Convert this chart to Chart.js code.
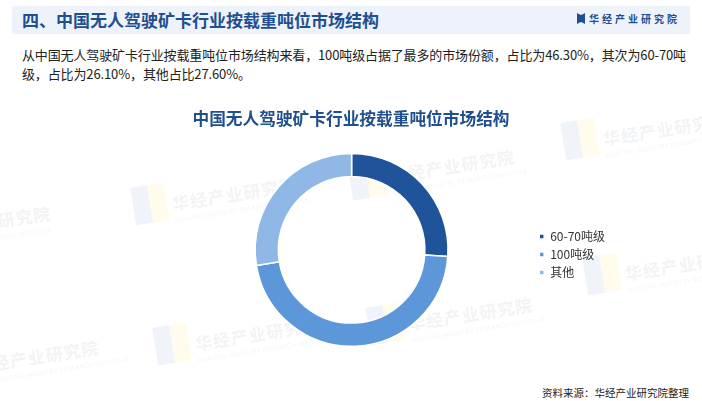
<!DOCTYPE html>
<html><head><meta charset="utf-8">
<script src="https://cdn.jsdelivr.net/npm/chart.js@4"></script>
<style>
html,body{margin:0;padding:0;background:#fff;width:702px;height:401px;overflow:hidden;font-family:"Noto Sans CJK SC","Noto Sans",sans-serif;}
#band{position:absolute;left:12px;top:6px;width:678px;height:28px;background:#EEF3FB;}
#h1{position:absolute;left:22px;top:7px;font-size:17px;font-weight:bold;color:#1F4F8F;line-height:26px;white-space:nowrap;}
#logo{position:absolute;left:577px;top:13px;font-size:10px;font-weight:bold;color:#1F4F8F;letter-spacing:3px;line-height:12px;white-space:nowrap;}
#logo i{display:inline-block;width:8px;height:11px;background:#1F4F8F;vertical-align:-1px;margin-right:4px;clip-path:polygon(0 0,40% 15%,60% 15%,100% 0,100% 100%,60% 85%,40% 85%,0 100%);}
#txt{position:absolute;left:22px;top:45px;font-size:13px;color:#222;line-height:19px;white-space:nowrap;letter-spacing:-0.13px;}
#src{position:absolute;right:13px;top:385px;font-size:10.5px;color:#222;white-space:nowrap;}
.wm{position:absolute;color:rgba(190,195,205,0.2);font-size:17px;font-weight:bold;transform:rotate(-9deg);white-space:nowrap;letter-spacing:1px;}
.wm small{display:block;font-size:6px;font-weight:normal;letter-spacing:0.5px;}
.wl{position:absolute;width:34px;height:38px;transform:rotate(-9deg);}
.wl b{position:absolute;top:0;width:17px;height:38px;}
.wl b.a{left:0;background:rgba(205,220,240,0.3);}
.wl b.c{left:17px;background:rgba(255,245,200,0.3);}
#c{position:absolute;left:0;top:100px;}
</style></head><body>
<div id="band"></div>
<div id="h1">四、中国无人驾驶矿卡行业按载重吨位市场结构</div>
<div id="logo"><i></i>华经产业研究院</div>
<div class="wl" style="left:133px;top:185px"><b class="a"></b><b class="c"></b></div>
<div class="wm" style="left:172px;top:180px">华经产业研究院<small>HUAJING INDUSTRY RESEARCH INSTITUTE</small></div>
<div class="wl" style="left:563px;top:120px"><b class="a"></b><b class="c"></b></div>
<div class="wm" style="left:603px;top:115px">华经产业研究院<small>HUAJING INDUSTRY RESEARCH INSTITUTE</small></div>
<div class="wm" style="left:-8px;top:340px">经产业研究院<small>HUAJING INDUSTRY RESEARCH INSTITUTE</small></div>
<div class="wl" style="left:155px;top:325px"><b class="a"></b><b class="c"></b></div>
<div class="wm" style="left:195px;top:320px">华经产业研究院<small>HUAJING INDUSTRY RESEARCH INSTITUTE</small></div>
<div class="wm" style="left:-20px;top:205px">业研究院<small>RESEARCH INSTITUTE</small></div>
<div class="wl" style="left:585px;top:255px"><b class="a"></b><b class="c"></b></div>
<div class="wm" style="left:625px;top:250px">华经产业研究院<small>HUAJING INDUSTRY RESEARCH INSTITUTE</small></div>
<div class="wl" style="left:368px;top:305px"><b class="a"></b><b class="c"></b></div>
<div class="wm" style="left:408px;top:300px">华经产业研究院<small>HUAJING INDUSTRY RESEARCH INSTITUTE</small></div>
<div class="wl" style="left:350px;top:160px"><b class="a"></b><b class="c"></b></div>
<div class="wm" style="left:390px;top:152px">华经产业研究院<small>HUAJING INDUSTRY RESEARCH INSTITUTE</small></div>
<div id="txt">从中国无人驾驶矿卡行业按载重吨位市场结构来看，100吨级占据了最多的市场份额，占比为46.30%，其次为60-70吨<br>级，占比为26.10%，其他占比27.60%。</div>
<canvas id="c" width="702" height="260"></canvas>
<div id="src">资料来源：华经产业研究院整理</div>
<script>
const categories = ["60-70吨级", "100吨级", "其他"];
const shares = [26.10, 46.30, 27.60];
const sliceColors = ["#20549A", "#5C97DA", "#8FB8E6"];
const chartTitle = "中国无人驾驶矿卡行业按载重吨位市场结构";

const adjustBoxes = {
  id: 'adjustBoxes',
  afterLayout(chart) {
    const l = chart.legend;
    if (l) { l.top += 31; l.bottom += 31; }
    const t = chart.titleBlock;
    if (t) { t.left = 0; t.right = chart.width; }
  }
};

new Chart(document.getElementById('c'), {
  type: 'doughnut',
  data: {
    labels: categories,
    datasets: [{
      data: shares,
      backgroundColor: sliceColors,
      borderColor: '#ffffff',
      borderWidth: 1.5,
      hoverOffset: 0
    }]
  },
  options: {
    responsive: false,
    animation: false,
    devicePixelRatio: 1,
    cutout: '76%',
    layout: { padding: { left: 170, right: 87, top: 0, bottom: 13 } },
    plugins: {
      tooltip: { enabled: false },
      title: {
        display: true,
        text: chartTitle,
        color: '#1F4F8F',
        font: { family: '"Noto Sans CJK SC", sans-serif', size: 16.7, weight: 'bold' },
        padding: { top: 8.4, bottom: 24.2 }
      },
      legend: {
        position: 'right',
        labels: {
          boxWidth: 5,
          boxHeight: 5,
          padding: 6,
          color: '#333',
          font: { family: '"Noto Sans CJK SC", sans-serif', size: 12 }
        }
      }
    }
  },
  plugins: [adjustBoxes]
});
</script>
</body></html>
